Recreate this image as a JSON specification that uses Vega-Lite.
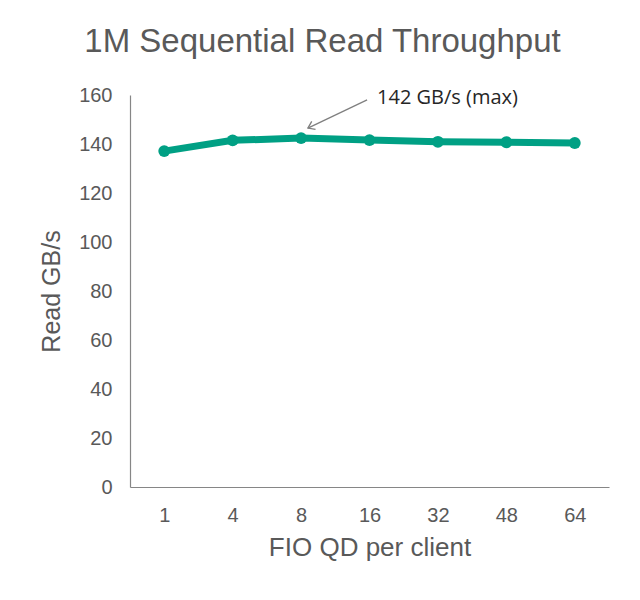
{
  "$schema": "https://vega.github.io/schema/vega-lite/v6.json",
  "autosize": "none",
  "width": 479,
  "height": 392,
  "padding": {"left": 130, "top": 95, "right": 31, "bottom": 113},
  "background": "white",
  "title": {
    "text": "1M Sequential Read Throughput",
    "font": "Liberation Sans",
    "fontSize": 33,
    "fontWeight": "normal",
    "color": "#595959",
    "anchor": "middle",
    "dx": -47,
    "offset": 26
  },
  "config": {"view": {"stroke": null}},
  "layer": [
    {
      "data": {"values": [
        {"qd": "1", "gbps": 137.1},
        {"qd": "4", "gbps": 141.5},
        {"qd": "8", "gbps": 142.4},
        {"qd": "16", "gbps": 141.6},
        {"qd": "32", "gbps": 140.9},
        {"qd": "48", "gbps": 140.7},
        {"qd": "64", "gbps": 140.4}
      ]},
      "encoding": {
        "x": {
          "field": "qd", "type": "ordinal", "sort": null,
          "scale": {"type": "point", "padding": 0.5},
          "axis": {
            "title": "FIO QD per client",
            "titleFont": "Liberation Sans", "titleFontSize": 26, "titleFontWeight": "normal", "titleColor": "#595959", "titlePadding": 9,
            "labelFont": "Liberation Sans", "labelFontSize": 20, "labelColor": "#595959", "labelAngle": 0, "labelPadding": 18,
            "ticks": false, "grid": false, "domainColor": "#868686", "domainWidth": 1.2
          }
        },
        "y": {
          "field": "gbps", "type": "quantitative",
          "scale": {"domain": [0, 160], "nice": false},
          "axis": {
            "title": "Read GB/s", "values": [0,20,40,60,80,100,120,140,160],
            "titleFont": "Liberation Sans", "titleFontSize": 25, "titleFontWeight": "normal", "titleColor": "#595959", "titlePadding": 14,
            "labelFont": "Liberation Sans", "labelFontSize": 20, "labelColor": "#595959", "labelPadding": 18,
            "ticks": false, "grid": false, "domainColor": "#868686", "domainWidth": 1.2
          }
        }
      },
      "layer": [
        {"mark": {"type": "line", "color": "#00A084", "strokeWidth": 7}},
        {"mark": {"type": "point", "filled": true, "opacity": 1, "color": "#00A084", "size": 140}}
      ]
    },
    {
      "data": {"values": [
        {"x": 2.965, "y": 158, "x2": 2.1, "y2": 146.5, "tx": 3.11, "ty": 158.8, "label": "142 GB/s (max)"}
      ]},
      "layer": [
        {
          "mark": {"type": "rule", "color": "#7f7f7f", "strokeWidth": 1.3},
          "encoding": {
            "x": {"field": "x", "type": "quantitative", "scale": {"domain": [-0.5, 6.5], "nice": false, "zero": false}, "axis": null},
            "y": {"field": "y", "type": "quantitative", "scale": {"domain": [0, 160], "nice": false}, "axis": null},
            "x2": {"field": "x2"},
            "y2": {"field": "y2"}
          }
        },
        {
          "mark": {"type": "point", "shape": "M -1 -0.7 L 0 0 L -1 0.7", "filled": false, "stroke": "#7f7f7f", "strokeWidth": 1.3, "size": 160, "angle": 154.6, "opacity": 1},
          "encoding": {
            "x": {"field": "x2", "type": "quantitative", "scale": {"domain": [-0.5, 6.5], "nice": false, "zero": false}, "axis": null},
            "y": {"field": "y2", "type": "quantitative", "scale": {"domain": [0, 160], "nice": false}, "axis": null}
          }
        },
        {
          "mark": {"type": "text", "align": "left", "baseline": "middle", "font": "Open Sans", "fontSize": 20, "color": "#262626"},
          "encoding": {
            "x": {"field": "tx", "type": "quantitative", "scale": {"domain": [-0.5, 6.5], "nice": false, "zero": false}, "axis": null},
            "y": {"field": "ty", "type": "quantitative", "scale": {"domain": [0, 160], "nice": false}, "axis": null},
            "text": {"field": "label"}
          }
        }
      ]
    }
  ],
  "resolve": {"scale": {"x": "independent"}, "axis": {"y": "independent"}}
}
